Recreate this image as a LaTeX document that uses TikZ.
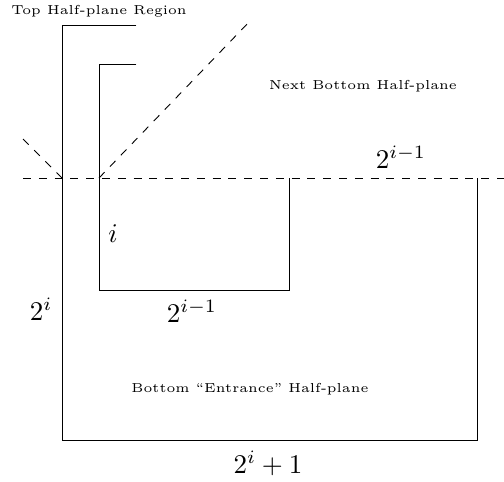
\documentclass[tikz,border=0pt]{standalone}
\usepackage{graphicx}
\usepackage{fontspec}
\newfontfamily\fiverm{lmroman5-regular}[Extension=.otf,Ligatures=TeX]
\begin{document}
\begin{tikzpicture}[x=1pt,y=-1pt,
  wall/.style={line width=0.9pt,line cap=rect},
  guide/.style={line width=0.9pt,dash pattern=on 8pt off 7.8pt},
  small/.style={inner sep=0pt,anchor=base,font=\fontsize{13}{15}\fiverm},
  mathlbl/.style={inner sep=0pt,anchor=base}]
\useasboundingbox (0,0) rectangle (504,482);
% coordinates
\coordinate (oT) at (136,25);
\coordinate (oTL) at (62,25);
\coordinate (oBL) at (62,440);
\coordinate (oBR) at (477,440);
\coordinate (oR) at (477,178);
\coordinate (iT) at (136,64);
\coordinate (iTL) at (99,64);
\coordinate (iBL) at (99,290);
\coordinate (iBR) at (289,290);
\coordinate (iR) at (289,178);
\coordinate (hL) at (23,178);
\coordinate (hR) at (504,178);
\coordinate (dA) at (99,178);
\coordinate (dB) at (250,21);
\coordinate (sA) at (23,139);
\coordinate (sB) at (62,178);
% walls
\draw[wall] (oT) -- (oTL) -- (oBL) -- (oBR) -- (oR);
\draw[wall] (iT) -- (iTL) -- (iBL) -- (iBR) -- (iR);
% dashed guides
\draw[guide] (hL) -- (hR);
\draw[guide] (dA) -- (dB);
\draw[guide] (sA) -- (sB);
% labels
\node[small] (top) at (99,14) {Top Half-plane Region};
\node[small] (next) at (363,89) {Next Bottom Half-plane};
\node[small] (bot) at (250,392.5) {Bottom “Entrance” Half-plane};
\node[mathlbl] (m1) at (401,168) {\scalebox{2.7}{$2^{i-1}$}};
\node[mathlbl] (m2) at (113,242) {\scalebox{2.7}{$i$}};
\node[mathlbl] (m3) at (41,320) {\scalebox{2.7}{$2^{i}$}};
\node[mathlbl] (m4) at (192,322) {\scalebox{2.7}{$2^{i-1}$}};
\node[mathlbl] (m5) at (268,473) {\scalebox{2.7}{$2^{i}+1$}};
\end{tikzpicture}
\end{document}
